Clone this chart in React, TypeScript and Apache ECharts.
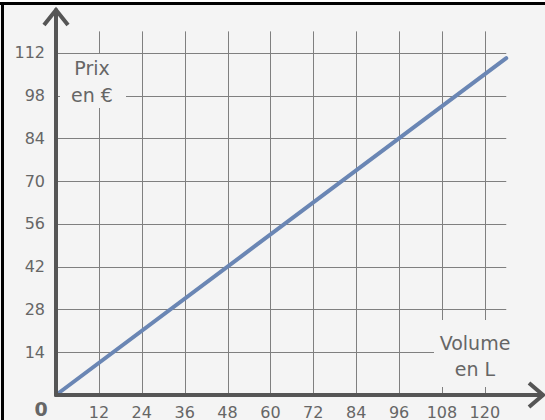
import React, { useEffect, useRef } from "react";
import * as echarts from "echarts";

// Tick values shown on the axes
const xTicks = [12, 24, 36, 48, 60, 72, 84, 96, 108, 120];
const yTicks = [14, 28, 42, 56, 70, 84, 98, 112];
// Extent of the grid lines (in axis units)
const gridXEnd = 126;
const gridYEnd = 119;
// Line: volume (L) -> price (€)
const lineVolume = [0, 126];
const linePrice = [0, 110.25];

const FONT = "DejaVu Sans";
const TEXT = "#666666";
const AXIS = "#555555";
const GRIDC = "#7f7f7f";
const BG = "#f4f4f4";

export default function App() {
  const ref = useRef<HTMLDivElement>(null);
  useEffect(() => {
    if (!ref.current) return;
    const chart = echarts.init(ref.current, undefined, { renderer: "svg" });
    const lineData = lineVolume.map((v, i) => [v, linePrice[i]]);
    const option: any = {
      animation: false,
      backgroundColor: BG,
      grid: { left: 56, right: 2, top: 10, bottom: 25, containLabel: false },
      xAxis: {
        type: "value",
        min: 0,
        max: 136,
        interval: 12,
        z: 10,
        axisLine: { show: true, lineStyle: { color: AXIS, width: 4 } },
        axisTick: { show: false },
        splitLine: { show: false },
        axisLabel: {
          margin: 9,
          fontSize: 16,
          color: TEXT,
          fontFamily: FONT,
          formatter: (v: number) => (xTicks.includes(v) ? String(v) : ""),
        },
      },
      yAxis: {
        type: "value",
        min: 0,
        max: 126,
        interval: 14,
        z: 10,
        axisLine: { show: true, lineStyle: { color: AXIS, width: 4 } },
        axisTick: { show: false },
        splitLine: { show: false },
        axisLabel: {
          margin: 11,
          fontSize: 16,
          color: TEXT,
          fontFamily: FONT,
          formatter: (v: number) => (yTicks.includes(v) ? String(v) : ""),
        },
      },
      series: [
        {
          type: "custom",
          z: 1,
          silent: true,
          data: xTicks.map((v) => [v]),
          renderItem: (params: any, api: any) => {
            const v = api.value(0);
            const a = api.coord([v, 0]);
            const b = api.coord([v, gridYEnd]);
            const x = Math.round(a[0]) + 0.5;
            return {
              type: "line",
              shape: { x1: x, y1: a[1], x2: x, y2: b[1] },
              style: { stroke: GRIDC, lineWidth: 1 },
            };
          },
        },
        {
          type: "custom",
          z: 1,
          silent: true,
          data: yTicks.map((v) => [0, v]),
          renderItem: (params: any, api: any) => {
            const v = api.value(1);
            const a = api.coord([0, v]);
            const b = api.coord([gridXEnd, v]);
            const y = Math.round(a[1]) + 0.5;
            return {
              type: "line",
              shape: { x1: a[0], y1: y, x2: b[0], y2: y },
              style: { stroke: GRIDC, lineWidth: 1 },
            };
          },
        },
        {
          type: "line",
          z: 6,
          data: lineData,
          symbol: "none",
          lineStyle: { color: "#6a86b4", width: 4, cap: "round" },
        },
      ],
      graphic: [
        // label boxes
        { type: "rect", z: 4, shape: { x: 60, y: 54, width: 66, height: 54 }, style: { fill: BG } },
        { type: "rect", z: 4, shape: { x: 434, y: 320, width: 84, height: 67 }, style: { fill: BG } },
        {
          type: "text", z: 5, x: 92, y: 68,
          style: { text: "Prix", fontSize: 19, fontFamily: FONT, fill: TEXT, align: "center", verticalAlign: "middle" },
        },
        {
          type: "text", z: 5, x: 92, y: 95,
          style: { text: "en €", fontSize: 19, fontFamily: FONT, fill: TEXT, align: "center", verticalAlign: "middle" },
        },
        {
          type: "text", z: 5, x: 475, y: 343,
          style: { text: "Volume", fontSize: 19, fontFamily: FONT, fill: TEXT, align: "center", verticalAlign: "middle" },
        },
        {
          type: "text", z: 5, x: 475, y: 369,
          style: { text: "en L", fontSize: 19, fontFamily: FONT, fill: TEXT, align: "center", verticalAlign: "middle" },
        },
        {
          type: "text", z: 5, x: 41, y: 409,
          style: { text: "0", fontSize: 19, fontWeight: "bold", fontFamily: FONT, fill: TEXT, align: "center", verticalAlign: "middle" },
        },
        // arrows
        {
          type: "polyline", z: 11,
          shape: { points: [[44, 25], [56, 10], [68, 25]] },
          style: { stroke: AXIS, lineWidth: 4, fill: "none", lineJoin: "miter" },
        },
        {
          type: "polyline", z: 11,
          shape: { points: [[529, 383], [543, 395], [529, 407]] },
          style: { stroke: AXIS, lineWidth: 4, fill: "none", lineJoin: "miter" },
        },
        // frame
        { type: "rect", z: 12, shape: { x: 0, y: 0, width: 545, height: 2 }, style: { fill: "#ffffff" } },
        { type: "rect", z: 12, shape: { x: 0, y: 2, width: 545, height: 3 }, style: { fill: "#000000" } },
        { type: "rect", z: 12, shape: { x: 1, y: 2, width: 3, height: 418 }, style: { fill: "#000000" } },
      ],
    };
    chart.setOption(option);
    return () => chart.dispose();
  }, []);
  return (
    <div
      ref={ref}
      style={{ position: "absolute", left: 0, top: 0, width: 545, height: 420 }}
    />
  );
}
